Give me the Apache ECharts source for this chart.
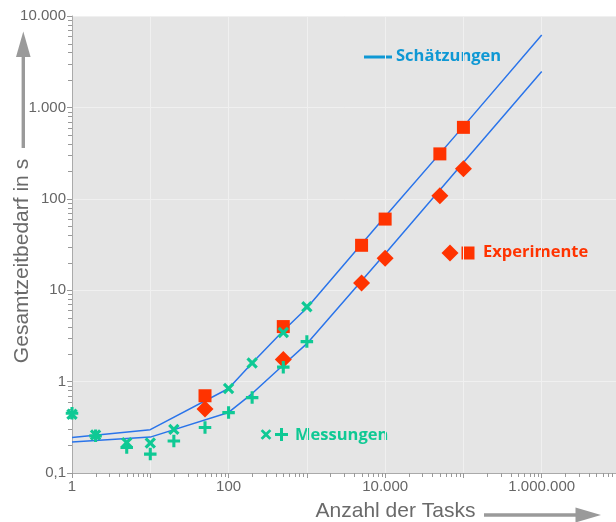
<!DOCTYPE html>
<html>
<head>
<meta charset="utf-8">
<script src="https://cdn.jsdelivr.net/npm/echarts@6/dist/echarts.min.js"></script>
<style>
html,body{margin:0;padding:0;background:#fff;}
#chart{width:616px;height:522px;}
</style>
</head>
<body>
<div id="chart"></div>
<script>
// ---- data ----
const lineX = [1, 10, 100, 200, 500, 1000, 10000, 100000, 1000000];
const estUpper = [0.245, 0.298, 0.84, 1.6, 3.6, 6.4, 64, 620, 6200];
const estLower = [0.218, 0.247, 0.46, 0.74, 1.52, 2.6, 25, 250, 2470];

const expX = [50, 500, 5000, 10000, 50000, 100000];
const expSquare = [0.70, 4.0, 31, 60, 310, 605];
const expDiamond = [0.50, 1.74, 12, 22.4, 108, 213];

const messCrossX = [1, 2, 5, 10, 20, 100, 200, 500, 1000];
const messCross = [0.44, 0.26, 0.215, 0.213, 0.30, 0.84, 1.6, 3.45, 6.6];
const messPlusX = [1, 2, 5, 10, 20, 50, 100, 200, 500, 1000];
const messPlus = [0.45, 0.255, 0.19, 0.161, 0.224, 0.314, 0.458, 0.668, 1.44, 2.74];

const xTickLabels = ['1', '100', '10.000', '1.000.000'];
const yTickLabels = ['0,1', '1', '10', '100', '1.000', '10.000'];

const xMin = 1, xMax = 1e7, yMin = 0.1, yMax = 1e4;

// ---- helpers ----
function pairs(xs, ys){ return xs.map((x,i)=>[x, ys[i]]); }
function fmtDE(v){
  if (v < 1) return String(v).replace('.', ',');
  return String(Math.round(v)).replace(/\B(?=(\d{3})+(?!\d))/g, '.');
}
function minorVals(lo, hi){
  const out = [];
  for (let d = lo; d < hi; d *= 10){
    for (let k = 2; k <= 9; k++) out.push(+(d*k).toPrecision(6));
  }
  return out;
}

const RED = '#ff3300';
const GREEN = '#0fc994';
const BLUE = '#2a74ea';
const LEGBLUE = '#0f98d4';
const GREY_TXT = '#666666';
const PLUS = 'path://M4.9,0H8.1V4.9H13V8.1H8.1V13H4.9V8.1H0V4.9H4.9Z';

const chart = echarts.init(document.getElementById('chart'), null, {renderer:'canvas'});

const minorX = minorVals(xMin, xMax).map(v=>[v, yMin]);
const minorY = minorVals(yMin, yMax).map(v=>[xMin, v]);

const option = {
  animation: false,
  backgroundColor: '#ffffff',
  grid: {
    left: 72, top: 16, width: 548, height: 457,
    outerBoundsMode: 'none', containLabel: false,
    show: true, backgroundColor: '#e5e5e5', borderWidth: 0
  },
  xAxis: {
    type: 'log', logBase: 10, min: xMin, max: xMax, interval: 1,
    axisLine: {show: true, lineStyle: {color: '#aaaaaa', width: 1}},
    axisTick: {show: true, length: 5, lineStyle: {color: '#999999'}},
    splitLine: {show: true, lineStyle: {color: '#f0f0f0', width: 1}},
    axisLabel: {
      margin: 6, color: GREY_TXT, fontSize: 15, fontFamily: 'Liberation Sans',
      formatter: function(v){
        const e = Math.round(Math.log10(v));
        if (e % 2 !== 0) return '';
        const idx = e / 2;
        return xTickLabels[idx] !== undefined ? xTickLabels[idx] : '';
      }
    }
  },
  yAxis: {
    type: 'log', logBase: 10, min: yMin, max: yMax, interval: 1,
    axisLine: {show: true, lineStyle: {color: '#aaaaaa', width: 1}},
    axisTick: {show: true, length: 5, lineStyle: {color: '#999999'}},
    splitLine: {show: true, lineStyle: {color: '#f0f0f0', width: 1}},
    axisLabel: {
      margin: 6, color: GREY_TXT, fontSize: 15, fontFamily: 'Liberation Sans',
      formatter: function(v){
        const e = Math.round(Math.log10(v));
        const idx = e + 1;
        return yTickLabels[idx] !== undefined ? yTickLabels[idx] : fmtDE(v);
      }
    }
  },
  series: [
    {
      type: 'custom', name: 'minorX', silent: true, clip: false, z: 1,
      data: minorX,
      renderItem: function(params, api){
        const p = api.coord([api.value(0), api.value(1)]);
        const x = Math.round(p[0]) + 0.5;
        return {type:'line', shape:{x1:x, y1:p[1], x2:x, y2:p[1]+4},
                style:{stroke:'#999999', lineWidth:1}};
      }
    },
    {
      type: 'custom', name: 'minorY', silent: true, clip: false, z: 1,
      data: minorY,
      renderItem: function(params, api){
        const p = api.coord([api.value(0), api.value(1)]);
        const y = Math.round(p[1]) + 0.5;
        return {type:'line', shape:{x1:p[0]-4, y1:y, x2:p[0], y2:y},
                style:{stroke:'#999999', lineWidth:1}};
      }
    },
    {
      type: 'line', name: 'Schätzungen (oben)', data: pairs(lineX, estUpper),
      symbol: 'none', lineStyle: {color: BLUE, width: 1.5}, z: 2
    },
    {
      type: 'line', name: 'Schätzungen (unten)', data: pairs(lineX, estLower),
      symbol: 'none', lineStyle: {color: BLUE, width: 1.5}, z: 2
    },
    {
      type: 'scatter', name: 'Experimente (Quadrat)', data: pairs(expX, expSquare),
      symbol: 'rect', symbolSize: 13, itemStyle: {color: RED, opacity: 1}, z: 3
    },
    {
      type: 'scatter', name: 'Experimente (Raute)', data: pairs(expX, expDiamond),
      symbol: 'diamond', symbolSize: 17, itemStyle: {color: RED, opacity: 1}, z: 3
    },
    {
      type: 'scatter', name: 'Messungen (x)', data: pairs(messCrossX, messCross),
      symbol: PLUS, symbolSize: 13, symbolRotate: 45, itemStyle: {color: GREEN, opacity: 1}, z: 4
    },
    {
      type: 'scatter', name: 'Messungen (+)', data: pairs(messPlusX, messPlus),
      symbol: PLUS, symbolSize: 12.5, itemStyle: {color: GREEN, opacity: 1}, z: 4
    }
  ],
  graphic: [
    // y-axis title & arrow
    {type:'text', x: 22, y: 261, rotation: Math.PI/2,
     style:{text:'Gesamtzeitbedarf in s', fill:'#6a6a6a', font:'21px "Liberation Sans"', align:'center', verticalAlign:'middle'}},
    {type:'line', shape:{x1:23.3, y1:148, x2:23.3, y2:54}, style:{stroke:'#9a9a9a', lineWidth:3.4}},
    {type:'polygon', shape:{points:[[23.3,31.5],[16,57],[30.6,57]]}, style:{fill:'#9a9a9a'}},
    // x-axis title & arrow
    {type:'text', x: 395.5, y: 511,
     style:{text:'Anzahl der Tasks', fill:'#6a6a6a', font:'21px "Liberation Sans"', align:'center', verticalAlign:'middle'}},
    {type:'line', shape:{x1:484, y1:515, x2:578, y2:515}, style:{stroke:'#9a9a9a', lineWidth:3.4}},
    {type:'polygon', shape:{points:[[601,515],[575.5,507.5],[575.5,522.5]]}, style:{fill:'#9a9a9a'}},
    // legend: Schätzungen
    {type:'rect', shape:{x:364, y:55.5, width:28, height:3}, style:{fill:LEGBLUE}},
    {type:'text', x:396, y:56,
     style:{text:'Schätzungen', fill:LEGBLUE, font:'bold 16.5px "Open Sans"', align:'left', verticalAlign:'middle'}},
    // legend: Experimente
    {type:'polygon', shape:{points:[[450,244.5],[458.5,253],[450,261.5],[441.5,253]]}, style:{fill:RED}},
    {type:'rect', shape:{x:461.5, y:246.5, width:13, height:13}, style:{fill:RED}},
    {type:'text', x:483, y:252,
     style:{text:'Experimente', fill:RED, font:'bold 16.5px "Open Sans"', align:'left', verticalAlign:'middle'}},
    // legend: Messungen
    {type:'polygon', x:266, y:434.5, rotation: Math.PI/4,
     shape:{points:[[-1.4,-6.2],[1.4,-6.2],[1.4,-1.4],[6.2,-1.4],[6.2,1.4],[1.4,1.4],[1.4,6.2],[-1.4,6.2],[-1.4,1.4],[-6.2,1.4],[-6.2,-1.4],[-1.4,-1.4]]},
     style:{fill:GREEN}},
    {type:'polygon', x:281.5, y:434.5,
     shape:{points:[[-1.5,-6.5],[1.5,-6.5],[1.5,-1.5],[6.5,-1.5],[6.5,1.5],[1.5,1.5],[1.5,6.5],[-1.5,6.5],[-1.5,1.5],[-6.5,1.5],[-6.5,-1.5],[-1.5,-1.5]]},
     style:{fill:GREEN}},
    {type:'text', x:295, y:435,
     style:{text:'Messungen', fill:GREEN, font:'bold 16.5px "Open Sans"', align:'left', verticalAlign:'middle'}}
  ]
};
chart.setOption(option);
</script>
</body>
</html>
